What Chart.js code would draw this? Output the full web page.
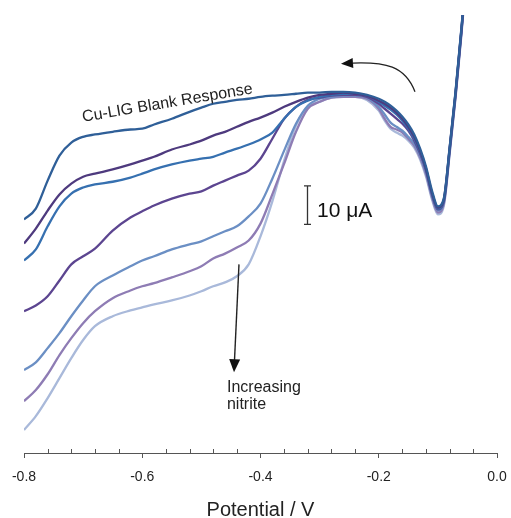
<!DOCTYPE html>
<html>
<head>
<meta charset="utf-8">
<script src="https://cdn.jsdelivr.net/npm/chart.js@4.4.0/dist/chart.umd.min.js"></script>
<style>
html, body { margin: 0; padding: 0; background: #fff; }
#wrap { width: 511px; height: 518px; }
</style>
</head>
<body>
<div id="wrap"><canvas id="cv" width="511" height="518"></canvas></div>
<script>
// potential (V) and current (uA, arbitrary zero)
const potentials = [-0.80,-0.78,-0.76,-0.74,-0.72,-0.70,-0.68,-0.65,-0.62,-0.60,-0.58,-0.55,-0.52,-0.50,-0.48,-0.46,-0.44,-0.42,-0.40,-0.38,-0.36,-0.34,-0.32,-0.30,-0.28,-0.26,-0.24,-0.22,-0.20,-0.19,-0.18,-0.17,-0.16,-0.15,-0.14,-0.13,-0.12,-0.11,-0.10,-0.09,-0.08,-0.07,-0.06,-0.05];

const blank = [60.8,63.6,70.9,77.4,80.8,82.3,82.9,83.6,84.2,84.4,85.5,87.0,88.8,89.9,90.9,91.4,91.9,92.2,92.7,93.0,93.2,93.5,93.8,93.8,94.0,94.0,93.8,93.2,92.2,91.4,90.4,89.1,87.5,85.5,82.9,79.2,74.5,68.3,64.2,66.2,79.7,94.3,110.9,128.6];
const nitrite1 = [54.5,58.4,63.1,67.3,70.1,71.9,72.7,73.8,75.1,76.1,77.1,79.0,80.3,81.3,82.6,83.6,84.9,86.2,87.3,88.6,90.1,91.4,92.5,93.2,93.5,93.8,93.5,93.0,91.7,90.9,89.9,88.6,87.0,84.9,82.3,78.7,74.0,67.8,63.9,66.0,79.5,94.0,110.6,128.6];
const nitrite2 = [50.1,53.0,59.0,64.2,67.5,69.1,69.9,70.6,71.7,72.7,73.8,75.1,76.1,76.6,77.1,78.2,79.2,80.3,81.6,83.4,87.0,90.1,91.7,92.7,93.2,93.5,93.5,93.0,91.4,90.4,89.4,88.1,86.5,84.4,81.8,78.4,73.8,67.5,63.6,65.7,79.2,93.8,110.4,128.6];
const nitrite3 = [36.9,38.4,40.8,44.9,49.1,51.2,53.2,57.9,61.3,62.9,64.4,66.2,67.5,68.1,69.6,70.9,72.2,73.5,76.6,81.8,87.0,90.1,91.9,92.5,93.0,93.2,93.2,92.7,90.9,89.6,88.3,87.0,85.7,83.9,81.3,77.9,73.5,67.3,63.4,65.4,79.0,93.5,110.1,128.3];
const nitrite4 = [21.6,23.6,27.3,31.2,35.6,39.7,43.4,46.2,48.6,50.1,51.2,53.0,54.3,55.1,56.4,57.7,59.0,61.6,64.9,71.4,78.7,85.7,90.4,92.2,92.7,93.0,93.0,92.5,90.1,88.1,86.0,84.9,83.9,82.3,80.5,77.4,73.0,67.0,63.1,65.2,78.7,93.2,109.9,128.3];
const nitrite5 = [13.5,16.4,20.5,25.5,29.9,33.8,36.9,40.3,42.3,43.4,44.2,45.7,47.3,48.6,50.6,51.9,53.5,55.3,59.7,67.3,75.3,83.6,89.6,91.4,92.5,92.7,92.7,92.2,89.6,87.0,84.9,84.2,83.4,81.8,80.0,76.9,72.5,66.5,62.6,64.8,78.4,93.0,109.6,128.0];
const nitrite6 = [6.0,9.6,14.3,19.5,24.7,29.4,33.0,35.6,37.1,37.9,38.7,39.7,41.0,42.1,43.4,44.4,46.0,49.1,56.4,65.5,76.1,85.2,90.1,91.4,92.5,92.7,92.7,91.9,89.1,86.5,84.4,83.4,82.6,81.3,79.5,76.4,71.9,66.0,62.1,64.3,77.9,92.5,109.1,127.8];

const seriesNames = ["Cu-LIG blank", "nitrite 1", "nitrite 2", "nitrite 3", "nitrite 4", "nitrite 5", "nitrite 6"];
const seriesValues = [blank, nitrite1, nitrite2, nitrite3, nitrite4, nitrite5, nitrite6];
const seriesColors = ["#2f5f98", "#4e3a7e", "#3670b0", "#5c4590", "#6b8fc4", "#8e7cb4", "#a9b9da"];

const FONT = "'Liberation Sans', Arial, sans-serif";

function arrowHead(ctx, tx, ty, bx, by, half) {
    // filled triangle pointing from (bx,by) towards (tx,ty)
    const a = Math.atan2(ty - by, tx - bx);
    ctx.beginPath();
    ctx.moveTo(tx, ty);
    ctx.lineTo(bx + half * Math.sin(a), by - half * Math.cos(a));
    ctx.lineTo(bx - half * Math.sin(a), by + half * Math.cos(a));
    ctx.closePath();
    ctx.fill();
}

const notes = {
    id: 'notes',
    afterDatasetsDraw(chart) {
        const ctx = chart.ctx;
        const xs = chart.scales.x, ys = chart.scales.y;
        const X = v => xs.getPixelForValue(v);
        const Y = i => ys.getPixelForValue(i);
        const bottom = chart.chartArea.bottom;
        ctx.save();

        // minor ticks, pointing up into the plot
        ctx.strokeStyle = "#555";
        ctx.lineWidth = 1;
        for (let k = 1; k < 20; k++) {
            if (k % 5 === 0) continue;
            const px = Math.round(X(-0.8 + k * 0.04)) + 0.5;
            ctx.beginPath();
            ctx.moveTo(px, bottom);
            ctx.lineTo(px, bottom - 4);
            ctx.stroke();
        }

        // 10 uA scale bar
        ctx.strokeStyle = "#333";
        ctx.lineWidth = 1.3;
        const bx = Math.round(X(-0.3214)) + 0.5;
        const b0 = Y(59.5), b1 = Y(69.5);
        ctx.beginPath();
        ctx.moveTo(bx, b0); ctx.lineTo(bx, b1);
        ctx.moveTo(bx - 3.5, b0); ctx.lineTo(bx + 3.5, b0);
        ctx.moveTo(bx - 3.5, b1); ctx.lineTo(bx + 3.5, b1);
        ctx.stroke();
        ctx.fillStyle = "#111";
        ctx.font = "21px " + FONT;
        ctx.textBaseline = "alphabetic";
        ctx.fillText("10 \u03bcA", X(-0.3044), Y(61.3));

        // blank label along the top curve
        ctx.save();
        ctx.translate(X(-0.7002), Y(86.2));
        ctx.rotate(-9.5 * Math.PI / 180);
        ctx.font = "16px " + FONT;
        ctx.fillStyle = "#222";
        ctx.fillText("Cu-LIG Blank Response", 0, 0);
        ctx.restore();

        // scan direction arrow
        ctx.strokeStyle = "#222";
        ctx.fillStyle = "#111";
        ctx.lineWidth = 1.3;
        ctx.beginPath();
        ctx.moveTo(X(-0.1387), Y(94.0));
        ctx.bezierCurveTo(X(-0.1556), Y(100.8), X(-0.1894), Y(101.8), X(-0.2436), Y(101.5));
        ctx.stroke();
        arrowHead(ctx, X(-0.2639), Y(101.3), X(-0.2436), Y(101.5), 5);

        // increasing nitrite arrow
        ctx.lineWidth = 1.4;
        ctx.beginPath();
        ctx.moveTo(X(-0.4364), Y(49.1));
        ctx.lineTo(X(-0.4440), Y(24.0));
        ctx.stroke();
        arrowHead(ctx, X(-0.4448), Y(21.0), X(-0.4437), Y(24.4), 5.5);
        ctx.font = "16px " + FONT;
        ctx.fillStyle = "#222";
        ctx.fillText("Increasing", X(-0.4567), Y(15.8));
        ctx.fillText("nitrite", X(-0.4567), Y(11.4));

        ctx.restore();
    }
};

const datasets = seriesValues.map((vals, n) => ({
    label: seriesNames[n],
    data: vals.map((c, i) => ({ x: potentials[i], y: c })),
    borderColor: seriesColors[n],
    backgroundColor: seriesColors[n],
    borderWidth: 2.3,
    pointRadius: 0,
    cubicInterpolationMode: 'monotone',
    fill: false
}));

const chart = new Chart(document.getElementById("cv").getContext("2d"), {
    type: 'line',
    data: { datasets: datasets },
    options: {
        responsive: false,
        animation: false,
        layout: { autoPadding: false, padding: { left: 24, right: 14, top: 15, bottom: 0 } },
        plugins: {
            legend: { display: false },
            tooltip: { enabled: false }
        },
        scales: {
            x: {
                type: 'linear',
                min: -0.8,
                max: 0,
                afterFit: s => { s.paddingLeft = 0; s.paddingRight = 0; },
                border: { display: true, color: "#555", width: 1 },
                grid: { drawOnChartArea: false, drawTicks: true, tickLength: 5, tickColor: "#555", tickWidth: 1 },
                ticks: {
                    stepSize: 0.2,
                    padding: 12,
                    maxRotation: 0,
                    color: "#222",
                    font: { size: 14, family: FONT, lineHeight: 1 },
                    callback: v => (Math.abs(v) < 1e-9 ? 0 : v).toFixed(1)
                },
                title: {
                    display: true,
                    text: "Potential / V",
                    color: "#222",
                    font: { size: 20, family: FONT, lineHeight: 0.8 },
                    padding: { top: 6, bottom: 0 }
                }
            },
            y: {
                type: 'linear',
                display: false,
                min: 0,
                max: 114
            }
        }
    },
    plugins: [notes]
});
</script>
</body>
</html>
